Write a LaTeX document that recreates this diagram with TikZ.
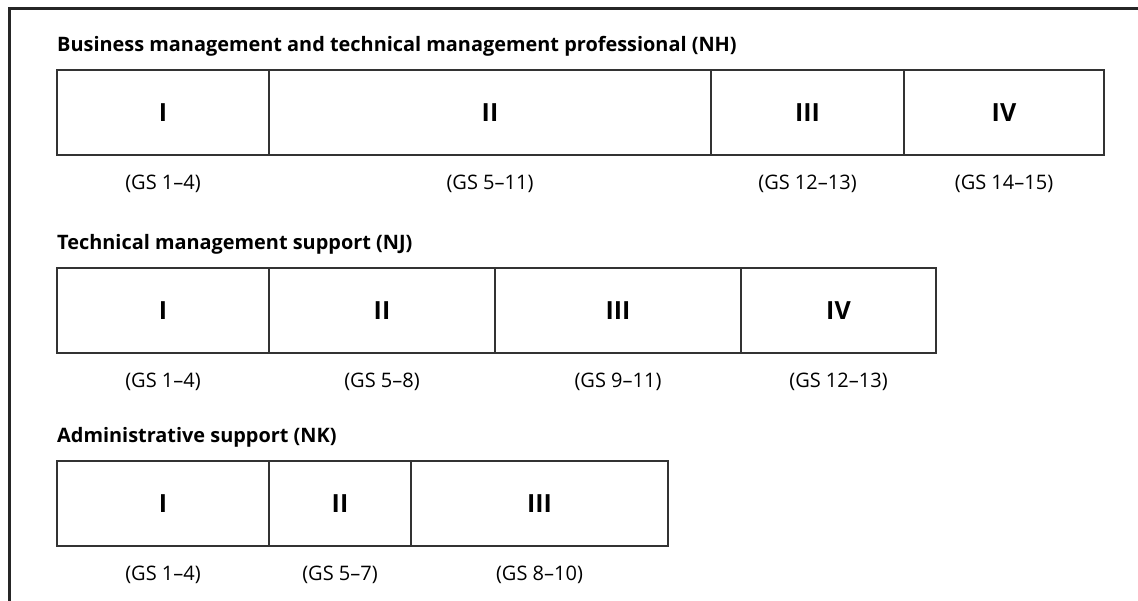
\documentclass[tikz,border=0pt]{standalone}
\usepackage{fontspec}
\setmainfont{Open Sans}
\usetikzlibrary{positioning}
\tikzset{
  band/.style={draw=black!80, line width=1.2pt, outer sep=0pt, inner sep=0pt,
    minimum height=85, font=\fontsize{25}{25}\selectfont\bfseries},
  grade/.style={inner sep=1pt, font=\fontsize{20}{20}\selectfont},
  head/.style={inner sep=0pt, anchor=base west, font=\fontsize{19.9}{20}\selectfont\bfseries}
}
\begin{document}
\begin{tikzpicture}[x=1pt, y=-1pt]
  \useasboundingbox (0,0) rectangle (1138,600);
  \draw[line width=3pt, black!85] (9,601) -- (9,8) -- (1139,8);
  \node[head] (nhhead) at (57,51) {Business management and technical management professional (NH)};
  \node[band, minimum width=212, anchor=north west] (nh1) at (57,70) {I};
  \node[band, minimum width=442, right=0pt of nh1] (nh2) {II};
  \node[band, minimum width=193, right=0pt of nh2] (nh3) {III};
  \node[band, minimum width=200, right=0pt of nh3] (nh4) {IV};
  \node[grade] (nh1g) at ([yshift=-29pt]nh1.south) {(GS 1--4)};
  \node[grade] (nh2g) at ([yshift=-29pt]nh2.south) {(GS 5--11)};
  \node[grade] (nh3g) at ([yshift=-29pt]nh3.south) {(GS 12--13)};
  \node[grade] (nh4g) at ([yshift=-29pt]nh4.south) {(GS 14--15)};
  \node[head] (njhead) at (57,249) {Technical management support (NJ)};
  \node[band, minimum width=212, anchor=north west] (nj1) at (57,268) {I};
  \node[band, minimum width=226, right=0pt of nj1] (nj2) {II};
  \node[band, minimum width=246, right=0pt of nj2] (nj3) {III};
  \node[band, minimum width=195, right=0pt of nj3] (nj4) {IV};
  \node[grade] (nj1g) at ([yshift=-29pt]nj1.south) {(GS 1--4)};
  \node[grade] (nj2g) at ([yshift=-29pt]nj2.south) {(GS 5--8)};
  \node[grade] (nj3g) at ([yshift=-29pt]nj3.south) {(GS 9--11)};
  \node[grade] (nj4g) at ([yshift=-29pt]nj4.south) {(GS 12--13)};
  \node[head] (nkhead) at (57,442) {Administrative support (NK)};
  \node[band, minimum width=212, anchor=north west] (nk1) at (57,461) {I};
  \node[band, minimum width=142, right=0pt of nk1] (nk2) {II};
  \node[band, minimum width=257, right=0pt of nk2] (nk3) {III};
  \node[grade] (nk1g) at ([yshift=-29pt]nk1.south) {(GS 1--4)};
  \node[grade] (nk2g) at ([yshift=-29pt]nk2.south) {(GS 5--7)};
  \node[grade] (nk3g) at ([yshift=-29pt]nk3.south) {(GS 8--10)};
\end{tikzpicture}
\end{document}
